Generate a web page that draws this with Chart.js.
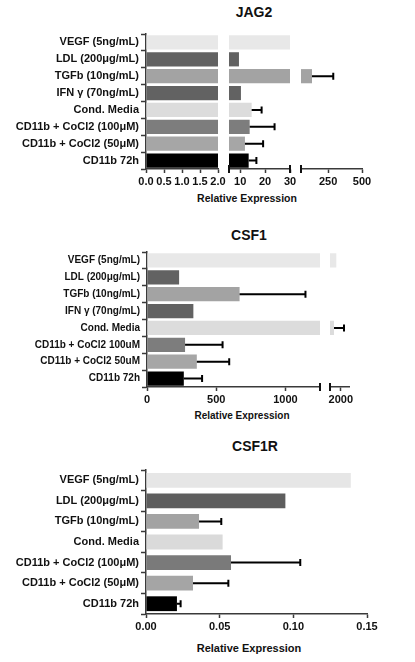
<!DOCTYPE html>
<html>
<head>
<meta charset="utf-8">
<script src="https://cdn.jsdelivr.net/npm/chart.js@4.4.1/dist/chart.umd.min.js"></script>
<style>
	body { margin: 0; background: #fff; }
	#page { position: relative; width: 415px; height: 662px; overflow: hidden; }
	#page canvas { position: absolute; }
	.txt { position: absolute; transform: translate(-50%, -50%); white-space: nowrap;
		font-family: "Liberation Sans", Arial, sans-serif; color: #111; line-height: 1; }
</style>
</head>
<body>
<div id="page">
	<div class="txt" style="left:254px;top:12px;font-size:14px;font-weight:bold;">JAG2</div>
	<div class="txt" style="left:247px;top:198px;font-size:10.5px;font-weight:bold;">Relative Expression</div>
	<div class="txt" style="left:249px;top:235px;font-size:14px;font-weight:bold;">CSF1</div>
	<div class="txt" style="left:242px;top:416px;font-size:10px;font-weight:bold;">Relative Expression</div>
	<div class="txt" style="left:255px;top:446px;font-size:14px;font-weight:bold;">CSF1R</div>
	<div class="txt" style="left:249px;top:648px;font-size:11px;font-weight:bold;">Relative Expression</div>

	<canvas id="jag1" width="240" height="190" style="left:0;top:0"></canvas>
	<canvas id="jag2" width="95" height="190" style="left:212px;top:0"></canvas>
	<canvas id="jag3" width="95" height="190" style="left:284px;top:0"></canvas>
	<canvas id="csf1a" width="345" height="215" style="left:0;top:200px"></canvas>
	<canvas id="csf1b" width="50" height="215" style="left:315px;top:200px"></canvas>
	<canvas id="csf1r" width="415" height="215" style="left:0;top:420px"></canvas>
</div>
<script>
// JAG2
var jagLabels = ["VEGF (5ng/mL)", "LDL (200μg/mL)", "TGFb (10ng/mL)", "IFN γ (70ng/mL)", "Cond. Media",
	"CD11b + CoCl2 (100μM)", "CD11b + CoCl2 (50μM)", "CD11b 72h"];
var jagValues = [35, 9.5, 131, 10.3, 14.6, 13.8, 11.9, 13.4];
var jagErrors = [null, null, 157, null, 4.0, 10.0, 7.3, 3.1];
var jagTicks1 = [0, 0.5, 1, 1.5, 2];
var jagTickLabels1 = ["0.0", "0.5", "1.0", "1.5", "2.0"];
var jagTicks2 = [10, 20, 30];
var jagTicks3 = [250, 500];

// CSF1
var csfLabels = ["VEGF (5ng/mL)", "LDL (200μg/mL)", "TGFb (10ng/mL)", "IFN γ (70ng/mL)", "Cond. Media",
	"CD11b + CoCl2 100uM", "CD11b + CoCl2 50uM", "CD11b 72h"];
var csfValues = [1916, 232, 669, 335, 1874, 275, 360, 266];
var csfErrors = [null, null, 476, null, 184, 271, 234, 132];
var csfTicks1 = [0, 500, 1000];
var csfTicks2 = [2000];

// CSF1R
var csfrLabels = ["VEGF (5ng/mL)", "LDL (200μg/mL)", "TGFb (10ng/mL)", "Cond. Media",
	"CD11b + CoCl2 (100μM)", "CD11b + CoCl2 (50μM)", "CD11b 72h"];
var csfrValues = [0.139, 0.0946, 0.036, 0.052, 0.0577, 0.0319, 0.021];
var csfrErrors = [null, null, 0.0151, null, 0.047, 0.024, 0.0025];
var csfrTicks = [0, 0.05, 0.1, 0.15];
var csfrTickLabels = ["0.00", "0.05", "0.10", "0.15"];

// bar fills
var eightColors = ["#e8e8e8", "#626262", "#a3a3a3", "#626262", "#dcdcdc", "#7d7d7d", "#a6a6a6", "#000000"];
var sevenColors = ["#e6e6e6", "#5e5e5e", "#a3a3a3", "#dadada", "#7a7a7a", "#a5a5a5", "#000000"];

var axisColor = "#3a3a3a";

Chart.defaults.font.family = "'Liberation Sans', Arial, sans-serif";
Chart.defaults.font.weight = "bold";
Chart.defaults.font.size = 11;
Chart.defaults.color = "#111";

// draws the SD whiskers on the right end of each bar, kept inside the segment
const errorBars = {
	id: "errorBars",
	afterDatasetsDraw(chart, args, opts) {
		var errors = opts.errors || [];
		var values = chart.data.datasets[0].data;
		var meta = chart.getDatasetMeta(0);
		var xs = chart.scales.x;
		var area = chart.chartArea;
		var ctx = chart.ctx;
		ctx.save();
		ctx.beginPath();
		ctx.rect(area.left, area.top - 5, area.right - area.left + 1, area.bottom - area.top + 10);
		ctx.clip();
		ctx.strokeStyle = "#000";
		ctx.lineWidth = 2;
		meta.data.forEach(function (bar, i) {
			if (errors[i] == null) {
				return;
			}
			var x0 = xs.getPixelForValue(values[i]);
			var x1 = xs.getPixelForValue(values[i] + errors[i]);
			ctx.beginPath();
			ctx.moveTo(x0, bar.y);
			ctx.lineTo(x1, bar.y);
			ctx.moveTo(x1, bar.y - 3.5);
			ctx.lineTo(x1, bar.y + 3.5);
			ctx.stroke();
		});
		ctx.restore();
	},
};

// the taller marks where the axis is broken
const breakCaps = {
	id: "breakCaps",
	afterDraw(chart, args, opts) {
		var area = chart.chartArea;
		var ctx = chart.ctx;
		ctx.save();
		ctx.strokeStyle = "#111";
		ctx.lineWidth = 2;
		var edges = [];
		if (opts.left) edges.push(area.left);
		if (opts.right) edges.push(area.right);
		edges.forEach(function (x) {
			ctx.beginPath();
			ctx.moveTo(x, area.bottom - 4);
			ctx.lineTo(x, area.bottom + 4);
			ctx.stroke();
		});
		ctx.restore();
	},
};

function makeSegment(id, opt) {
	return new Chart(id, {
		type: "bar",
		data: {
			labels: opt.labels,
			datasets: [
				{
					data: opt.values,
					backgroundColor: opt.colors,
					barPercentage: opt.barPct,
					categoryPercentage: 1,
					clip: 0,
				},
			],
		},
		options: {
			indexAxis: "y",
			responsive: false,
			animation: false,
			events: [],
			layout: {
				padding: opt.padding,
			},
			plugins: {
				legend: { display: false },
				tooltip: { enabled: false },
				errorBars: { errors: opt.errors },
				breakCaps: opt.caps || {},
			},
			scales: {
				x: {
					type: "linear",
					min: opt.min,
					max: opt.max,
					afterBuildTicks: function (scale) {
						scale.ticks = opt.ticks.map(function (v) {
							return { value: v };
						});
					},
					afterFit: function (scale) {
						scale.height = opt.xHeight;
					},
					ticks: {
						autoSkip: false,
						maxRotation: 0,
						padding: 2,
						color: "#111",
						callback: function (value, index) {
							return opt.tickLabels ? opt.tickLabels[index] : String(value);
						},
					},
					grid: {
						drawOnChartArea: false,
						tickLength: 4,
						tickWidth: 1.5,
						color: axisColor,
					},
					border: { color: axisColor, width: 1.5 },
				},
				y: {
					display: opt.showLabels,
					afterFit: function (scale) {
						// only the first piece carries the category labels
						if (opt.showLabels) {
							scale.width = opt.yWidth;
						}
					},
					ticks: {
						padding: 2,
						color: "#111",
						font: { size: opt.labelSize || 11 },
					},
					grid: {
						drawOnChartArea: false,
						tickLength: 5,
						tickWidth: 1.5,
						color: axisColor,
					},
					border: { color: axisColor, width: 1.5 },
				},
			},
		},
		plugins: [errorBars, breakCaps],
	});
}

// JAG2, three pieces of a broken axis
makeSegment("jag1", {
	labels: jagLabels, values: jagValues, errors: jagErrors, colors: eightColors,
	min: 0, max: 2, ticks: jagTicks1, tickLabels: jagTickLabels1,
	showLabels: true, yWidth: 146, labelSize: 11, barPct: 0.84,
	padding: { top: 34, left: 0, right: 22, bottom: 0 }, xHeight: 21,
});
makeSegment("jag2", {
	labels: jagLabels, values: jagValues, errors: jagErrors, colors: eightColors,
	min: 5.5, max: 30, ticks: jagTicks2,
	showLabels: false, barPct: 0.84,
	padding: { top: 34, left: 17, right: 17, bottom: 0 }, xHeight: 21,
	caps: { left: true, right: true },
});
makeSegment("jag3", {
	labels: jagLabels, values: jagValues, errors: jagErrors, colors: eightColors,
	min: 50, max: 500, ticks: jagTicks3,
	showLabels: false, barPct: 0.84,
	padding: { top: 34, left: 17, right: 17, bottom: 0 }, xHeight: 21,
	caps: { left: true },
});

// CSF1, two pieces
makeSegment("csf1a", {
	labels: csfLabels, values: csfValues, errors: csfErrors, colors: eightColors,
	min: 0, max: 1250, ticks: csfTicks1,
	showLabels: true, yWidth: 147, labelSize: 10, barPct: 0.84,
	padding: { top: 52, left: 0, right: 25, bottom: 0 }, xHeight: 28,
	caps: { right: true },
});
makeSegment("csf1b", {
	labels: csfLabels, values: csfValues, errors: csfErrors, colors: eightColors,
	min: 1800, max: 2150, ticks: csfTicks2,
	showLabels: false, barPct: 0.84,
	padding: { top: 52, left: 15, right: 16, bottom: 0 }, xHeight: 28,
	caps: { left: true },
});

// CSF1R, plain axis
makeSegment("csf1r", {
	labels: csfrLabels, values: csfrValues, errors: csfrErrors, colors: sevenColors,
	min: 0, max: 0.15, ticks: csfrTicks, tickLabels: csfrTickLabels,
	showLabels: true, yWidth: 146, labelSize: 11, barPct: 0.72,
	padding: { top: 50, left: 0, right: 48, bottom: 0 }, xHeight: 21,
});
</script>
</body>
</html>
